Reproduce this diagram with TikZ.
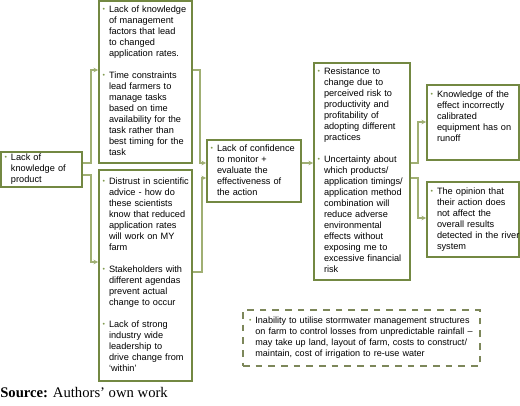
\documentclass[tikz,border=0pt]{standalone}
\usepackage{fontspec}
\usepackage{graphicx}
\setmainfont{Liberation Sans}
\newfontfamily\srcfont{Liberation Serif}
\usetikzlibrary{arrows.meta}
\definecolor{boxc}{RGB}{115,136,66}
\definecolor{conc}{RGB}{160,175,115}
\definecolor{bulc}{RGB}{130,155,80}
\definecolor{dashc}{RGB}{125,135,90}
\newcommand{\bul}{\makebox[4.8pt][l]{\textcolor{bulc}{\raisebox{0.15ex}{\scalebox{0.75}{•}}}}}
\begin{document}
\begin{tikzpicture}[x=0.75pt,y=-0.75pt,
  box/.style={draw=boxc, line width=1.4pt, inner xsep=2.7pt, inner ysep=0pt, align=left,
    font=\fontsize{6.9}{8.25}\selectfont},
  dbox/.style={draw=dashc, line width=1.1pt, dash pattern=on 5pt off 4.5pt, inner xsep=4.5pt, inner ysep=0pt, align=left,
    font=\fontsize{6.8}{8.25}\selectfont},
  conn/.style={draw=conc, line width=0.8pt, -{Stealth[length=3.5pt,width=3.5pt]}},
]
\useasboundingbox (0,0) rectangle (520,406);

\node[box, minimum width=60.75pt, text width=55.35pt, minimum height=26.25pt] (A) at (41.5,169.5)
 {\begin{tabular}{@{}l@{}l@{}}\bul & Lack of\\ & knowledge of\\ & product\end{tabular}};

\node[box, minimum width=69.75pt, text width=64.35pt, minimum height=121.5pt] (B) at (145.5,82)
 {\begin{tabular}{@{}l@{}l@{}}\bul & Lack of knowledge\\ & of management\\ & factors that lead\\ & to changed\\ & application rates.\\[8.25pt]
 \bul & Time constraints\\ & lead farmers to\\ & manage tasks\\ & based on time\\ & availability for the\\ & task rather than\\ & best timing for the\\ & task\end{tabular}};

\node[box, minimum width=69.75pt, text width=64.35pt, minimum height=158.25pt] (C) at (145.5,275.5)
 {\begin{tabular}{@{}l@{}l@{}}\bul & Distrust in scientific\\ & advice - how do\\ & these scientists\\ & know that reduced\\ & application rates\\ & will work on MY\\ & farm\\[8.25pt]
 \bul & Stakeholders with\\ & different agendas\\ & prevent actual\\ & change to occur\\[8.25pt]
 \bul & Lack of strong\\ & industry wide\\ & leadership to\\ & drive change from\\ & ‘within’\end{tabular}};

\node[box, minimum width=70.5pt, text width=65.1pt, minimum height=46.5pt] (D) at (254,171)
 {\begin{tabular}{@{}l@{}l@{}}\bul & Lack of confidence\\ & to monitor +\\ & evaluate the\\ & effectiveness of\\ & the action\end{tabular}};

\node[box, minimum width=72pt, text width=66.6pt, minimum height=162.75pt] (E) at (362,171.5)
 {\begin{tabular}{@{}l@{}l@{}}\bul & Resistance to\\ & change due to\\ & perceived risk to\\ & productivity and\\ & profitability of\\ & adopting different\\ & practices\\[8.25pt]
 \bul & Uncertainty about\\ & which products/\\ & application timings/\\ & application method\\ & combination will\\ & reduce adverse\\ & environmental\\ & effects without\\ & exposing me to\\ & excessive financial\\ & risk\end{tabular}};

\node[box, minimum width=69pt, text width=63.6pt, minimum height=56.25pt] (F) at (473,122.5)
 {\begin{tabular}{@{}l@{}l@{}}\bul & Knowledge of the\\ & effect incorrectly\\ & calibrated\\ & equipment has on\\ & runoff\\[8.25pt]\end{tabular}};

\node[box, minimum width=69pt, text width=63.6pt, minimum height=56.25pt] (G) at (473,219.5)
 {\begin{tabular}{@{}l@{}l@{}}\bul & The opinion that\\ & their action does\\ & not affect the\\ & overall results\\ & detected in the river\\ & system\end{tabular}};

\node[dbox, minimum width=177.75pt, text width=168.75pt, minimum height=42pt] (H) at (361.5,338)
 {\begin{tabular}{@{}l@{}l@{}}\bul & Inability to utilise stormwater management structures\\ & on farm to control losses from unpredictable rainfall –\\ & may take up land, layout of farm, costs to construct/\\ & maintain, cost of irrigation to re-use water\end{tabular}};

\node[anchor=west, inner sep=0pt] (src) at (0,393)
 {\srcfont\fontsize{11}{13}\selectfont\textbf{Source:} Authors’ own work};

\draw[conn] (A.east |- 0,163) -- (91,163) |- (B.west |- 0,70);
\draw[conn] (A.east |- 0,175) -- (91,175) |- (C.west |- 0,262);
\draw[conn] (B.east |- 0,70) -- (200,70) |- (D.west |- 0,163);
\draw[conn] (C.east |- 0,272) -- (202,272) |- (D.west |- 0,178);
\draw[conn] (D.east |- 0,163) -- (E.west |- 0,163);
\draw[conn] (E.east |- 0,163) -- (418,163) |- (F.west |- 0,122);
\draw[conn] (E.east |- 0,178) -- (418,178) |- (G.west |- 0,218);
\end{tikzpicture}
\end{document}
